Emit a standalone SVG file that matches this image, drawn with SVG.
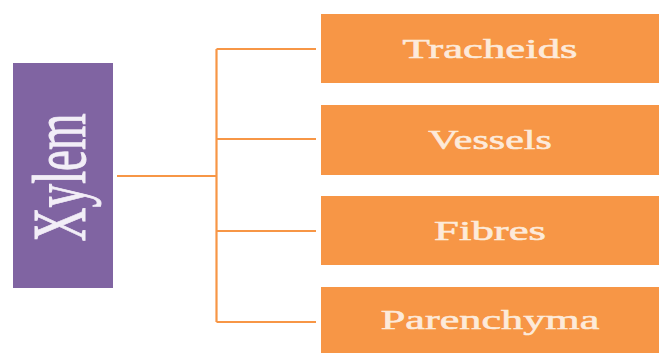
<svg xmlns="http://www.w3.org/2000/svg" width="659" height="353" viewBox="0 0 659 353">
<style>
.box{fill:#f79646}
.lbl{font-family:"Liberation Serif",serif;font-size:28px;fill:#fdeada;stroke:#fdeada;stroke-width:0.6;text-anchor:middle}
.ln{stroke:#f79646;stroke-width:2.2;fill:none}
</style>
<rect width="659" height="353" fill="#ffffff"/>
<g id="xylem">
<rect x="13" y="63" width="100" height="225" fill="#8064a2"/>
<text transform="translate(85,177.5) scale(1.6,1) rotate(-90)" font-family="Liberation Serif, serif" font-size="47" fill="#f2eef7" stroke="#f2eef7" stroke-width="0.6" text-anchor="middle">Xylem</text>
</g>
<g id="connectors">
<path class="ln" d="M117 176H216.5M216.5 49V322M216.5 49H316M216.5 139H316M216.5 231H316M216.5 322H316"/>
</g>
<g id="tracheids">
<rect class="box" x="321" y="14" width="338" height="69"/>
<text class="lbl" transform="translate(490,57.5) scale(1.6,1)">Tracheids</text>
</g>
<g id="vessels">
<rect class="box" x="321" y="105" width="338" height="70"/>
<text class="lbl" transform="translate(490,149) scale(1.5,1)">Vessels</text>
</g>
<g id="fibres">
<rect class="box" x="321" y="196" width="338" height="69"/>
<text class="lbl" transform="translate(490,239.5) scale(1.6,1)">Fibres</text>
</g>
<g id="parenchyma">
<rect class="box" x="321" y="287" width="338" height="70"/>
<text class="lbl" transform="translate(490,329) scale(1.58,1)">Parenchyma</text>
</g>
</svg>
